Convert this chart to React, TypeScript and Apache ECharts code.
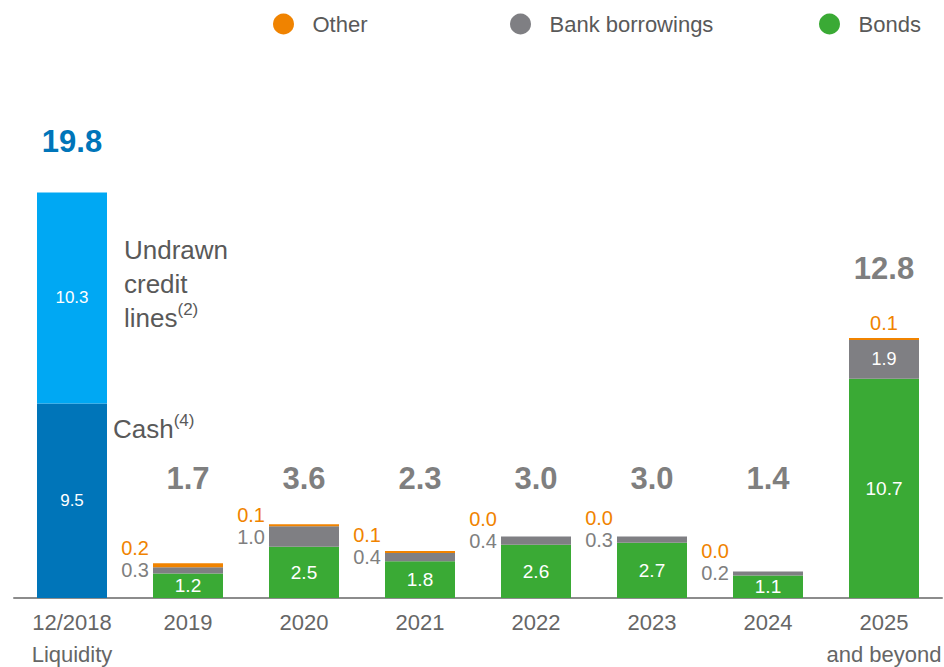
import React, { useEffect, useRef } from "react";
import * as echarts from "echarts";

const categories = ["12/2018\nLiquidity", "2019", "2020", "2021", "2022", "2023", "2024", "2025\nand beyond"];
const cash = [9.5, null, null, null, null, null, null, null];
const undrawn = [10.3, null, null, null, null, null, null, null];
const bonds = [null, 1.2, 2.5, 1.8, 2.6, 2.7, 1.1, 10.7];
const bank = [null, 0.3, 1.0, 0.4, 0.4, 0.3, 0.2, 1.9];
const other = [null, 0.2, 0.1, 0.1, 0.0, 0.0, 0.0, 0.1];
const totals = ["19.8", "1.7", "3.6", "2.3", "3.0", "3.0", "1.4", "12.8"];

const NARROW = "'Liberation Sans Narrow', 'Arial Narrow', 'Liberation Sans', Arial, sans-serif";
const SANS = "'Liberation Sans', Arial, sans-serif";
const C_GREEN = "#3aaa35";
const C_GRAY = "#7f7f83";
const C_ORANGE = "#f08300";
const C_CASH = "#0075b9";
const C_UNDRAWN = "#00a8f3";
const C_TEXT = "#666666";
const C_TOTAL = "#7f7f7f";

export default function App() {
  const ref = useRef<HTMLDivElement>(null);
  useEffect(() => {
    document.body.style.margin = "0";
    const chart = echarts.init(ref.current!, null, { renderer: "svg" });
    const last = categories.length - 1;
    const pxPerUnit = 20.48;

    const fmt = (p: any) => (p.value == null ? "" : Number(p.value).toFixed(1));

    const bankData = bank.map((v, i) =>
      i === last
        ? { value: v, label: { show: true, position: "inside", color: "#fff", fontSize: 18 } }
        : v
    );
    const otherData = other.map((v, i) => {
      if (v == null) return v;
      if (i === last) return { value: v, label: { show: true, position: "top", distance: 5, offset: [0, 0] } };
      const gap = ((bank[i] as number) / 2 + v / 2) * pxPerUnit;
      return { value: v, label: { offset: [0, -(22 - gap)] } };
    });

    // vertical level (in axis units) at which each total is written
    const totalLevel = (i: number) => {
      if (i === 0) return 22.3;
      if (i === last) return 16.1;
      return 5.85;
    };

    const legendBase = {
      top: 8,
      itemWidth: 48,
      itemHeight: 21,
      icon: "circle",
      selectedMode: false,
      textStyle: { fontFamily: NARROW, fontSize: 22, color: "#595959" },
    };

    chart.setOption({
      animation: false,
      legend: [
        { ...legendBase, left: 268, data: ["Other"] },
        { ...legendBase, left: 505, data: ["Bank borrowings"] },
        { ...legendBase, left: 814, data: ["Bonds"] },
      ],
      grid: { left: 14, right: 2, top: 86, bottom: 69, outerBoundsMode: "none", containLabel: false },
      xAxis: {
        type: "category",
        data: categories,
        axisTick: { show: false },
        axisLine: { lineStyle: { color: "#8c8c8c", width: 2 } },
        axisLabel: {
          fontFamily: NARROW,
          fontSize: 22,
          color: C_TEXT,
          margin: 8,
          lineHeight: 32,
          interval: 0,
        },
      },
      yAxis: {
        type: "value",
        min: 0,
        max: 25,
        show: false,
        splitLine: { show: false },
      },
      series: [
        {
          name: "Cash",
          type: "bar",
          stack: "s",
          barWidth: 70,
          data: cash,
          itemStyle: { color: C_CASH },
          label: { show: true, position: "inside", color: "#fff", fontFamily: NARROW, fontSize: 17, formatter: fmt },
        },
        {
          name: "Undrawn credit lines",
          type: "bar",
          stack: "s",
          barWidth: 70,
          data: undrawn,
          itemStyle: { color: C_UNDRAWN },
          label: { show: true, position: "inside", color: "#fff", fontFamily: NARROW, fontSize: 17, formatter: fmt },
        },
        {
          name: "Bonds",
          type: "bar",
          stack: "s",
          barWidth: 70,
          data: bonds,
          itemStyle: { color: C_GREEN },
          label: { show: true, position: "inside", color: "#fff", fontFamily: NARROW, fontSize: 19, formatter: fmt },
        },
        {
          name: "Bank borrowings",
          type: "bar",
          stack: "s",
          barWidth: 70,
          data: bankData,
          itemStyle: { color: C_GRAY },
          label: { show: true, position: "left", distance: 4, color: "#7f7f7f", fontFamily: NARROW, fontSize: 20, formatter: fmt },
        },
        {
          name: "Other",
          type: "bar",
          stack: "s",
          barWidth: 70,
          data: otherData,
          itemStyle: { color: C_ORANGE },
          label: { show: true, position: "left", distance: 4, color: C_ORANGE, fontFamily: NARROW, fontSize: 20, formatter: fmt },
        },
        {
          name: "Totals",
          type: "scatter",
          symbolSize: 0,
          silent: true,
          itemStyle: { opacity: 1 },
          data: totals.map((t, i) => ({
            value: [i, totalLevel(i)],
            label: { color: i === 0 ? C_CASH : C_TOTAL },
          })),
          label: {
            show: true,
            position: "inside",
            fontFamily: SANS,
            fontWeight: "bold",
            fontSize: 31,
            formatter: (p: any) => totals[p.dataIndex],
          },
        },
      ],
      graphic: [
        {
          type: "text",
          left: 124,
          top: 233,
          style: {
            text: "Undrawn\ncredit\nlines{s|(2)}",
            fontFamily: NARROW,
            fontSize: 26,
            lineHeight: 34,
            fill: "#595959",
            rich: { s: { fontFamily: NARROW, fontSize: 17, fill: "#595959", verticalAlign: "top", padding: [0, 0, 12, 0] } },
          },
        },
        {
          type: "text",
          left: 113,
          top: 412,
          style: {
            text: "Cash{s|(4)}",
            fontFamily: NARROW,
            fontSize: 26,
            lineHeight: 34,
            fill: "#595959",
            rich: { s: { fontFamily: NARROW, fontSize: 17, fill: "#595959", verticalAlign: "top", padding: [0, 0, 12, 0] } },
          },
        },
      ],
    });
    return () => chart.dispose();
  }, []);
  return <div ref={ref} style={{ width: 944, height: 667 }} />;
}
